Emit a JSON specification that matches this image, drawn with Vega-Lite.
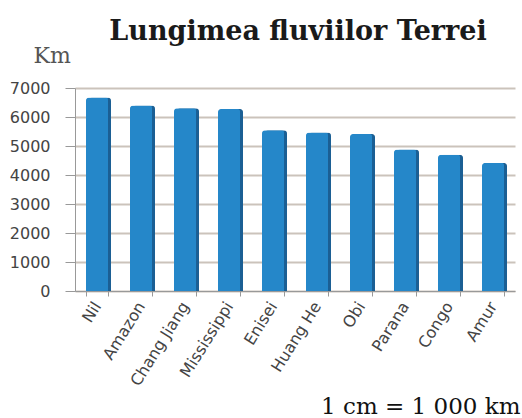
{
  "$schema": "https://vega.github.io/schema/vega-lite/v6.json",
  "autosize": {"type": "none"},
  "width": 440,
  "height": 203,
  "padding": {"left": 75, "top": 88, "right": 7, "bottom": 127},
  "background": "white",
  "config": {"view": {"stroke": null}},
  "title": {
    "text": "Lungimea fluviilor Terrei",
    "font": "DejaVu Serif",
    "fontSize": 27,
    "fontWeight": "bold",
    "color": "#1a1a1a",
    "anchor": "middle",
    "offset": -2,
    "dx": 3
  },
  "data": {
    "values": [
      {"rau": "Nil", "km": 6671},
      {"rau": "Amazon", "km": 6400},
      {"rau": "Chang Jiang", "km": 6300},
      {"rau": "Mississippi", "km": 6275},
      {"rau": "Enisei", "km": 5539},
      {"rau": "Huang He", "km": 5464},
      {"rau": "Obi", "km": 5410},
      {"rau": "Parana", "km": 4880},
      {"rau": "Congo", "km": 4700},
      {"rau": "Amur", "km": 4416}
    ]
  },
  "encoding": {
    "x": {
      "field": "rau",
      "type": "nominal",
      "sort": null,
      "scale": {"paddingInner": 0.5, "paddingOuter": 0.25},
      "axis": {
        "title": "1 cm = 1 000 km",
        "titleFont": "DejaVu Serif",
        "titleFontSize": 23,
        "titleFontWeight": "normal",
        "titleColor": "#111",
        "titleAnchor": "end",
        "titleAlign": "right",
        "titleBaseline": "alphabetic",
        "titleX": 445,
        "titleY": 122,
        "labelAngle": -58,
        "labelAlign": "right",
        "labelBaseline": "middle",
        "labelFont": "DejaVu Sans",
        "labelFontSize": 16,
        "labelColor": "#444",
        "labelPadding": 7,
        "tickBand": "extent",
        "tickColor": "#999",
        "tickSize": 5,
        "domainColor": "#999"
      }
    },
    "y": {
      "field": "km",
      "type": "quantitative",
      "scale": {"domain": [0, 7000]},
      "axis": {
        "values": [0, 1000, 2000, 3000, 4000, 5000, 6000, 7000],
        "format": "d",
        "title": "Km",
        "titleFont": "DejaVu Serif",
        "titleFontSize": 22,
        "titleFontWeight": "normal",
        "titleColor": "#555",
        "titleAngle": 0,
        "titleAlign": "left",
        "titleBaseline": "alphabetic",
        "titleX": -42,
        "titleY": -26,
        "labelFont": "DejaVu Sans",
        "labelFontSize": 16,
        "labelColor": "#444",
        "labelPadding": 15,
        "tickSize": 10,
        "tickColor": "#999",
        "domainColor": "#999",
        "gridColor": "#cbc3bb",
        "gridWidth": 2
      }
    }
  },
  "layer": [
    {
      "mark": {"type": "bar", "color": "#1b5f94", "xOffset": 3, "cornerRadiusTopRight": 3, "cornerRadiusTopLeft": 3}
    },
    {
      "mark": {"type": "bar", "color": "#2587c9", "cornerRadiusTopLeft": 3, "cornerRadiusTopRight": 2}
    }
  ]
}
